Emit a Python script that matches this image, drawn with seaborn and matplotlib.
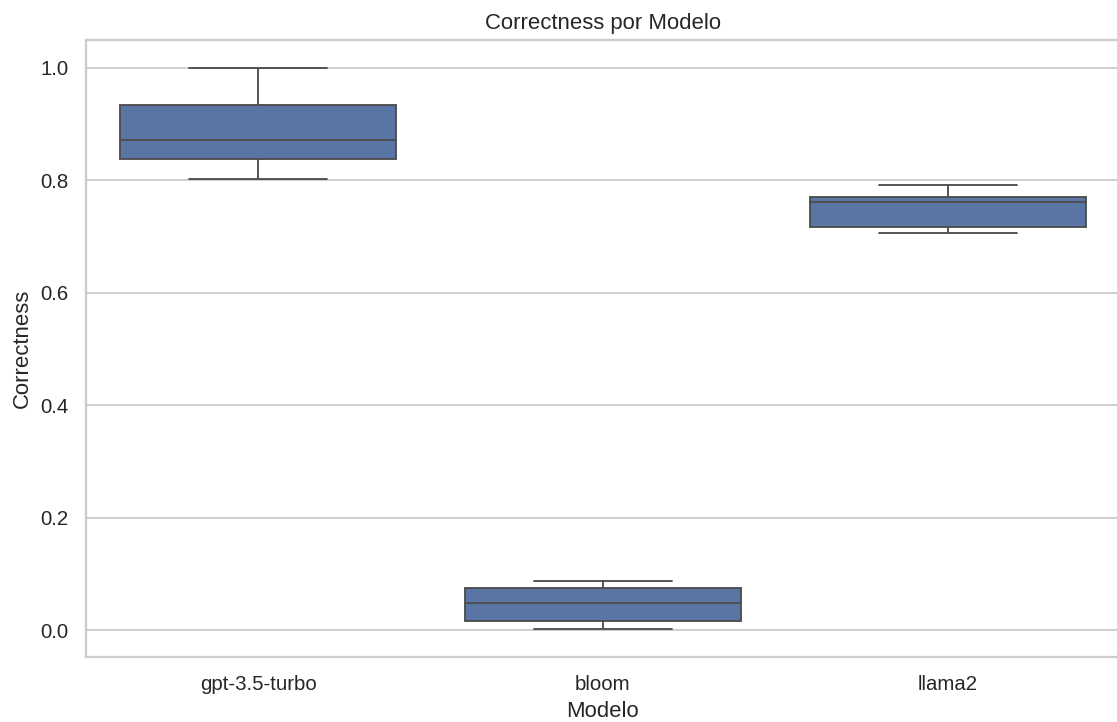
import matplotlib
matplotlib.use("Agg")
import matplotlib.pyplot as plt
import seaborn as sns
import pandas as pd

# Correctness scores per model
modelos = ["gpt-3.5-turbo", "bloom", "llama2"]
gpt_scores = [0.803, 0.837, 0.872, 0.933, 1.0]
bloom_scores = [0.002, 0.0155, 0.049, 0.075, 0.087]
llama_scores = [0.706, 0.716, 0.761, 0.771, 0.792]

df = pd.DataFrame({
    "Modelo": [modelos[0]] * len(gpt_scores)
              + [modelos[1]] * len(bloom_scores)
              + [modelos[2]] * len(llama_scores),
    "Correctness": gpt_scores + bloom_scores + llama_scores,
})

sns.set_theme(style="whitegrid")
plt.rcParams["font.family"] = ["Liberation Sans", "DejaVu Sans"]

DPI = 133.0
W, H = 1117, 722
fig = plt.figure(figsize=(W / DPI, H / DPI), dpi=DPI)
ax = fig.add_axes([86 / W, 0.09, 1034 / W, 0.855])

sns.boxplot(data=df, x="Modelo", y="Correctness", order=modelos,
            color="#4c72b0", ax=ax)

ax.set_title("Correctness por Modelo")
ax.set_xlabel("Modelo")
ax.set_ylabel("Correctness")

fig.savefig("out.png", dpi=DPI)
